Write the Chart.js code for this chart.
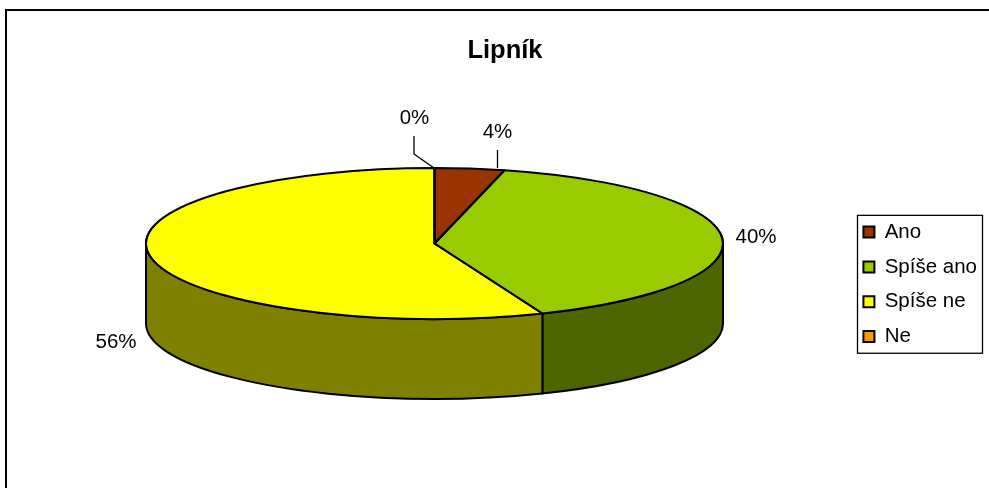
<!DOCTYPE html>
<html>
<head>
<meta charset="utf-8">
<title>Lipník</title>
<script src="https://cdn.jsdelivr.net/npm/chart.js@4"></script>
<style>
  html, body { margin: 0; padding: 0; background: #fff; overflow: hidden; }
  canvas { display: block; }
</style>
</head>
<body>
<canvas id="chart" width="989" height="488"></canvas>
<script>
const titleText = "Lipník";
const categories = ["Ano", "Spíše ano", "Spíše ne", "Ne"];
const values = [3.9, 40, 56.1, 0];
const topColors = ["#993300", "#99CC00", "#FFFF00", "#FF9900"];
const wallColors = ["#4D1A00", "#4D6600", "#808000", "#804D00"];

// where Excel left the pie and its labels
const pie = { x: 434.5, y: 243.5, rx: 288.5, ry: 75.5, depth: 80 };
const labelSpots = [[497.5, 132.5], [756, 237.5], [116, 342.5], [414.5, 118]];
const leaders = [
  [[414, 136], [414, 154], [434, 168]],
  [[497.5, 150], [497.5, 168]]
];
const FONT = "'Liberation Sans', Arial, sans-serif";

function ellipseSlice(ctx, arc) {
  ctx.beginPath();
  ctx.moveTo(pie.x, pie.y);
  ctx.ellipse(pie.x, pie.y, pie.rx, pie.ry, 0, arc.startAngle, arc.endAngle);
  ctx.closePath();
}

const pie3d = {
  id: "pie3d",
  beforeDraw(chart) {
    const ctx = chart.ctx;
    ctx.save();
    ctx.fillStyle = "#fff";
    ctx.fillRect(0, 0, chart.width, chart.height);
    // only the top and left edge of the frame are in the picture
    ctx.strokeStyle = "#000";
    ctx.lineWidth = 2;
    ctx.beginPath();
    ctx.moveTo(6, chart.height);
    ctx.lineTo(6, 10);
    ctx.lineTo(chart.width, 10);
    ctx.stroke();
    // legend frame
    const hit = chart.legend.legendHitBoxes;
    const last = hit[hit.length - 1];
    ctx.lineWidth = 1.3;
    ctx.strokeRect(857.5, hit[0].top - 6.5, 125, last.top + last.height - hit[0].top + 13);
    ctx.restore();
  },
  beforeDatasetsDraw(chart) {
    const ctx = chart.ctx;
    const arcs = chart.getDatasetMeta(0).data;
    ctx.save();
    ctx.strokeStyle = "#000";
    ctx.lineWidth = 2;
    ctx.lineJoin = "round";
    arcs.forEach((arc, i) => {
      const from = Math.max(arc.startAngle, 0);
      const to = Math.min(arc.endAngle, Math.PI);
      if (to <= from) return;
      ctx.beginPath();
      ctx.ellipse(pie.x, pie.y, pie.rx, pie.ry, 0, from, to);
      ctx.ellipse(pie.x, pie.y + pie.depth, pie.rx, pie.ry, 0, to, from, true);
      ctx.closePath();
      ctx.fillStyle = wallColors[i];
      ctx.fill();
      ctx.stroke();
    });
    ctx.restore();

    // squash the round pie the library draws into the tilted top
    const arc = arcs[0];
    ctx.save();
    ctx.translate(pie.x, pie.y);
    ctx.scale(pie.rx / arc.outerRadius, pie.ry / arc.outerRadius);
    ctx.translate(-arc.x, -arc.y);
  },
  afterDatasetsDraw(chart) {
    const ctx = chart.ctx;
    ctx.restore();
    const arcs = chart.getDatasetMeta(0).data;
    const total = values.reduce((a, b) => a + b, 0);

    ctx.save();
    ctx.strokeStyle = "#000";
    ctx.lineWidth = 2;
    ctx.lineJoin = "round";
    arcs.forEach(arc => {
      if (arc.endAngle <= arc.startAngle) return;
      ellipseSlice(ctx, arc);
      ctx.stroke();
    });

    ctx.lineWidth = 1.3;
    leaders.forEach(line => {
      ctx.beginPath();
      line.forEach(([x, y], i) => (i ? ctx.lineTo(x, y) : ctx.moveTo(x, y)));
      ctx.stroke();
    });

    ctx.fillStyle = "#000";
    ctx.font = "20.5px " + FONT;
    ctx.textAlign = "center";
    ctx.textBaseline = "middle";
    values.forEach((v, i) => {
      ctx.fillText(Math.round(v / total * 100) + "%", labelSpots[i][0], labelSpots[i][1]);
    });
    ctx.restore();
  }
};

new Chart(document.getElementById("chart"), {
  type: "pie",
  plugins: [pie3d],
  data: {
    labels: categories,
    datasets: [{
      data: values,
      backgroundColor: topColors,
      borderColor: "#000",
      borderWidth: 2,
      clip: false
    }]
  },
  options: {
    responsive: false,
    animation: false,
    radius: pie.rx,
    layout: { padding: { left: 23, right: 2, top: 0, bottom: 0 } },
    plugins: {
      tooltip: { enabled: false },
      title: {
        display: true,
        text: titleText,
        color: "#000",
        font: { family: FONT, size: 25.5, weight: "bold", lineHeight: 1.2 },
        padding: { top: 36, bottom: 14 }
      },
      legend: {
        position: "right",
        fullSize: false,
        align: "center",
        labels: {
          color: "#000",
          boxWidth: 11,
          boxHeight: 11,
          padding: 14.3,
          font: { family: FONT, size: 20.5 }
        }
      }
    }
  }
});
</script>
</body>
</html>
